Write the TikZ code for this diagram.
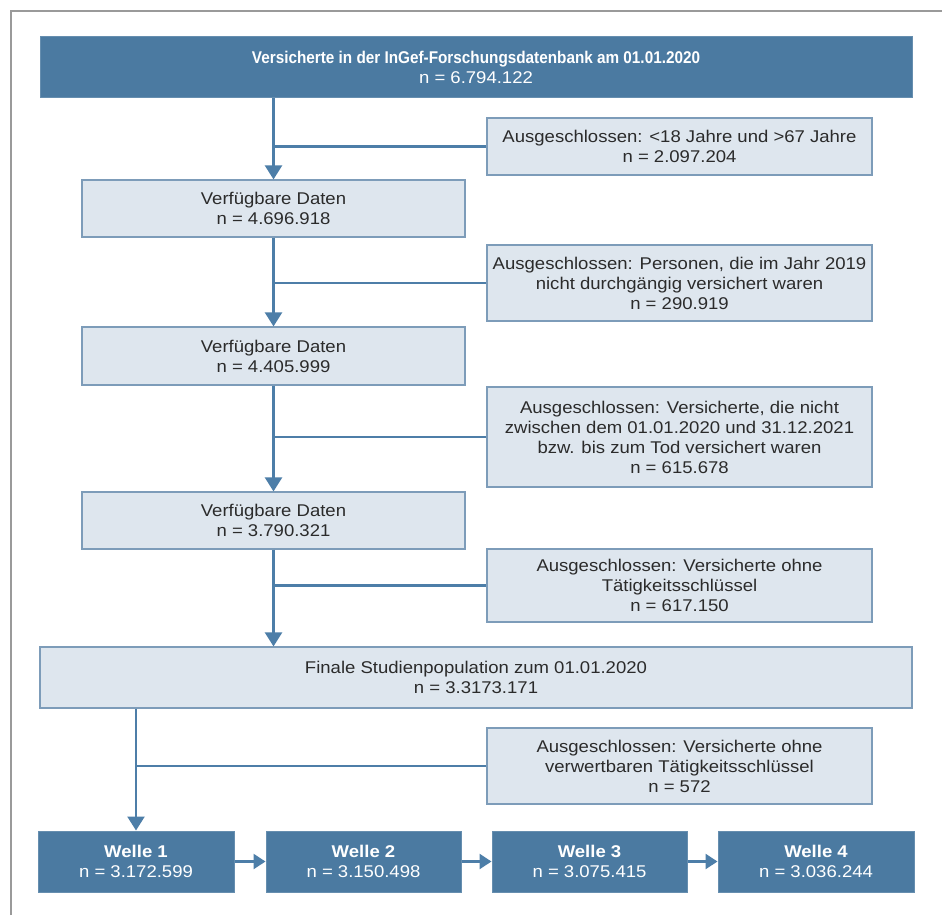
\documentclass[tikz,border=0pt]{standalone}
\usepackage{fontspec}
\setmainfont{Liberation Sans}[FakeStretch=1.09]
\newfontfamily\titlefont{Liberation Sans}[FakeStretch=0.9]
\usetikzlibrary{arrows.meta}
\definecolor{dkblue}{HTML}{4B7AA1}
\definecolor{ltfill}{HTML}{DEE6EE}
\definecolor{ltdraw}{HTML}{7D9CB9}
\definecolor{linec}{HTML}{4D7EA8}
\definecolor{txt}{HTML}{2B2B2B}
\definecolor{frame}{HTML}{9A9A9A}
\begin{document}
\begin{tikzpicture}[x=1pt,y=-1pt,
  base/.style={inner sep=0pt, align=center, font=\fontsize{17}{20}\selectfont},
  darkbox/.style={base, fill=dkblue, draw=dkblue!85!white, line width=1pt, text=white},
  lightbox/.style={base, fill=ltfill, draw=ltdraw, line width=1.2pt, text=txt},
  conn/.style={draw=linec, line width=2.4pt},
  arr/.style={conn, -{Triangle[width=17pt,length=14pt]}},
  sarr/.style={conn, -{Triangle[width=15pt,length=12pt]}}]
\useasboundingbox (0,0) rectangle (944,915);
\fill[white] (0,0) rectangle (944,915);
\draw[frame, line width=1.2pt] (11,915) -- (11,11) -- (942,11);

\node[darkbox, minimum width=872pt, minimum height=61pt] (top) at (476,67.5)
  {{\titlefont\bfseries Versicherte in der InGef-Forschungsdatenbank am 01.01.2020}\\n = 6.794.122};
\node[lightbox, minimum width=383pt, minimum height=57pt] (v1) at (273.5,208.5)
  {Verfügbare Daten\\n = 4.696.918};
\node[lightbox, minimum width=385pt, minimum height=57pt] (e1) at (679.5,146.5)
  {Ausgeschlossen: <18 Jahre und >67 Jahre\\n = 2.097.204};
\node[lightbox, minimum width=385pt, minimum height=76pt] (e2) at (679.5,283)
  {Ausgeschlossen: Personen, die im Jahr 2019\\nicht durchgängig versichert waren\\n = 290.919};
\node[lightbox, minimum width=383pt, minimum height=58pt] (v2) at (273.5,356)
  {Verfügbare Daten\\n = 4.405.999};
\node[lightbox, minimum width=385pt, minimum height=100pt] (e3) at (679.5,437)
  {Ausgeschlossen: Versicherte, die nicht\\zwischen dem 01.01.2020 und 31.12.2021\\bzw. bis zum Tod versichert waren\\n = 615.678};
\node[lightbox, minimum width=383pt, minimum height=57pt] (v3) at (273.5,520.5)
  {Verfügbare Daten\\n = 3.790.321};
\node[lightbox, minimum width=385pt, minimum height=73pt] (e4) at (679.5,585.5)
  {Ausgeschlossen: Versicherte ohne\\Tätigkeitsschlüssel\\n = 617.150};
\node[lightbox, minimum width=872pt, minimum height=61pt] (fin) at (476,677.5)
  {Finale Studienpopulation zum 01.01.2020\\n = 3.3173.171};
\node[lightbox, minimum width=385pt, minimum height=76pt] (e5) at (679.5,766)
  {Ausgeschlossen: Versicherte ohne\\verwertbaren Tätigkeitsschlüssel\\n = 572};
\node[darkbox, minimum width=196pt, minimum height=61pt] (w1) at (136,861.5)
  {\textbf{Welle 1}\\n = 3.172.599};
\node[darkbox, minimum width=195pt, minimum height=61pt] (w2) at (363.5,861.5)
  {\textbf{Welle 2}\\n = 3.150.498};
\node[darkbox, minimum width=195pt, minimum height=61pt] (w3) at (589.5,861.5)
  {\textbf{Welle 3}\\n = 3.075.415};
\node[darkbox, minimum width=196pt, minimum height=61pt] (w4) at (816,861.5)
  {\textbf{Welle 4}\\n = 3.036.244};

\draw[arr] (v1.north |- top.south) -- (v1.north);
\draw[conn] (e1.west) -- (e1.west -| v1.north);
\draw[arr] (v1.south) -- (v2.north);
\draw[conn] (e2.west) -- (e2.west -| v1.south);
\draw[arr] (v2.south) -- (v3.north);
\draw[conn] (e3.west) -- (e3.west -| v2.south);
\draw[arr] (v3.south) -- (v3.south |- fin.north);
\draw[conn] (e4.west) -- (e4.west -| v3.south);
\draw[arr] (w1.north |- fin.south) -- (w1.north);
\draw[conn] (e5.west) -- (e5.west -| w1.north);
\draw[sarr] (w1.east) -- (w2.west);
\draw[sarr] (w2.east) -- (w3.west);
\draw[sarr] (w3.east) -- (w4.west);
\end{tikzpicture}
\end{document}
